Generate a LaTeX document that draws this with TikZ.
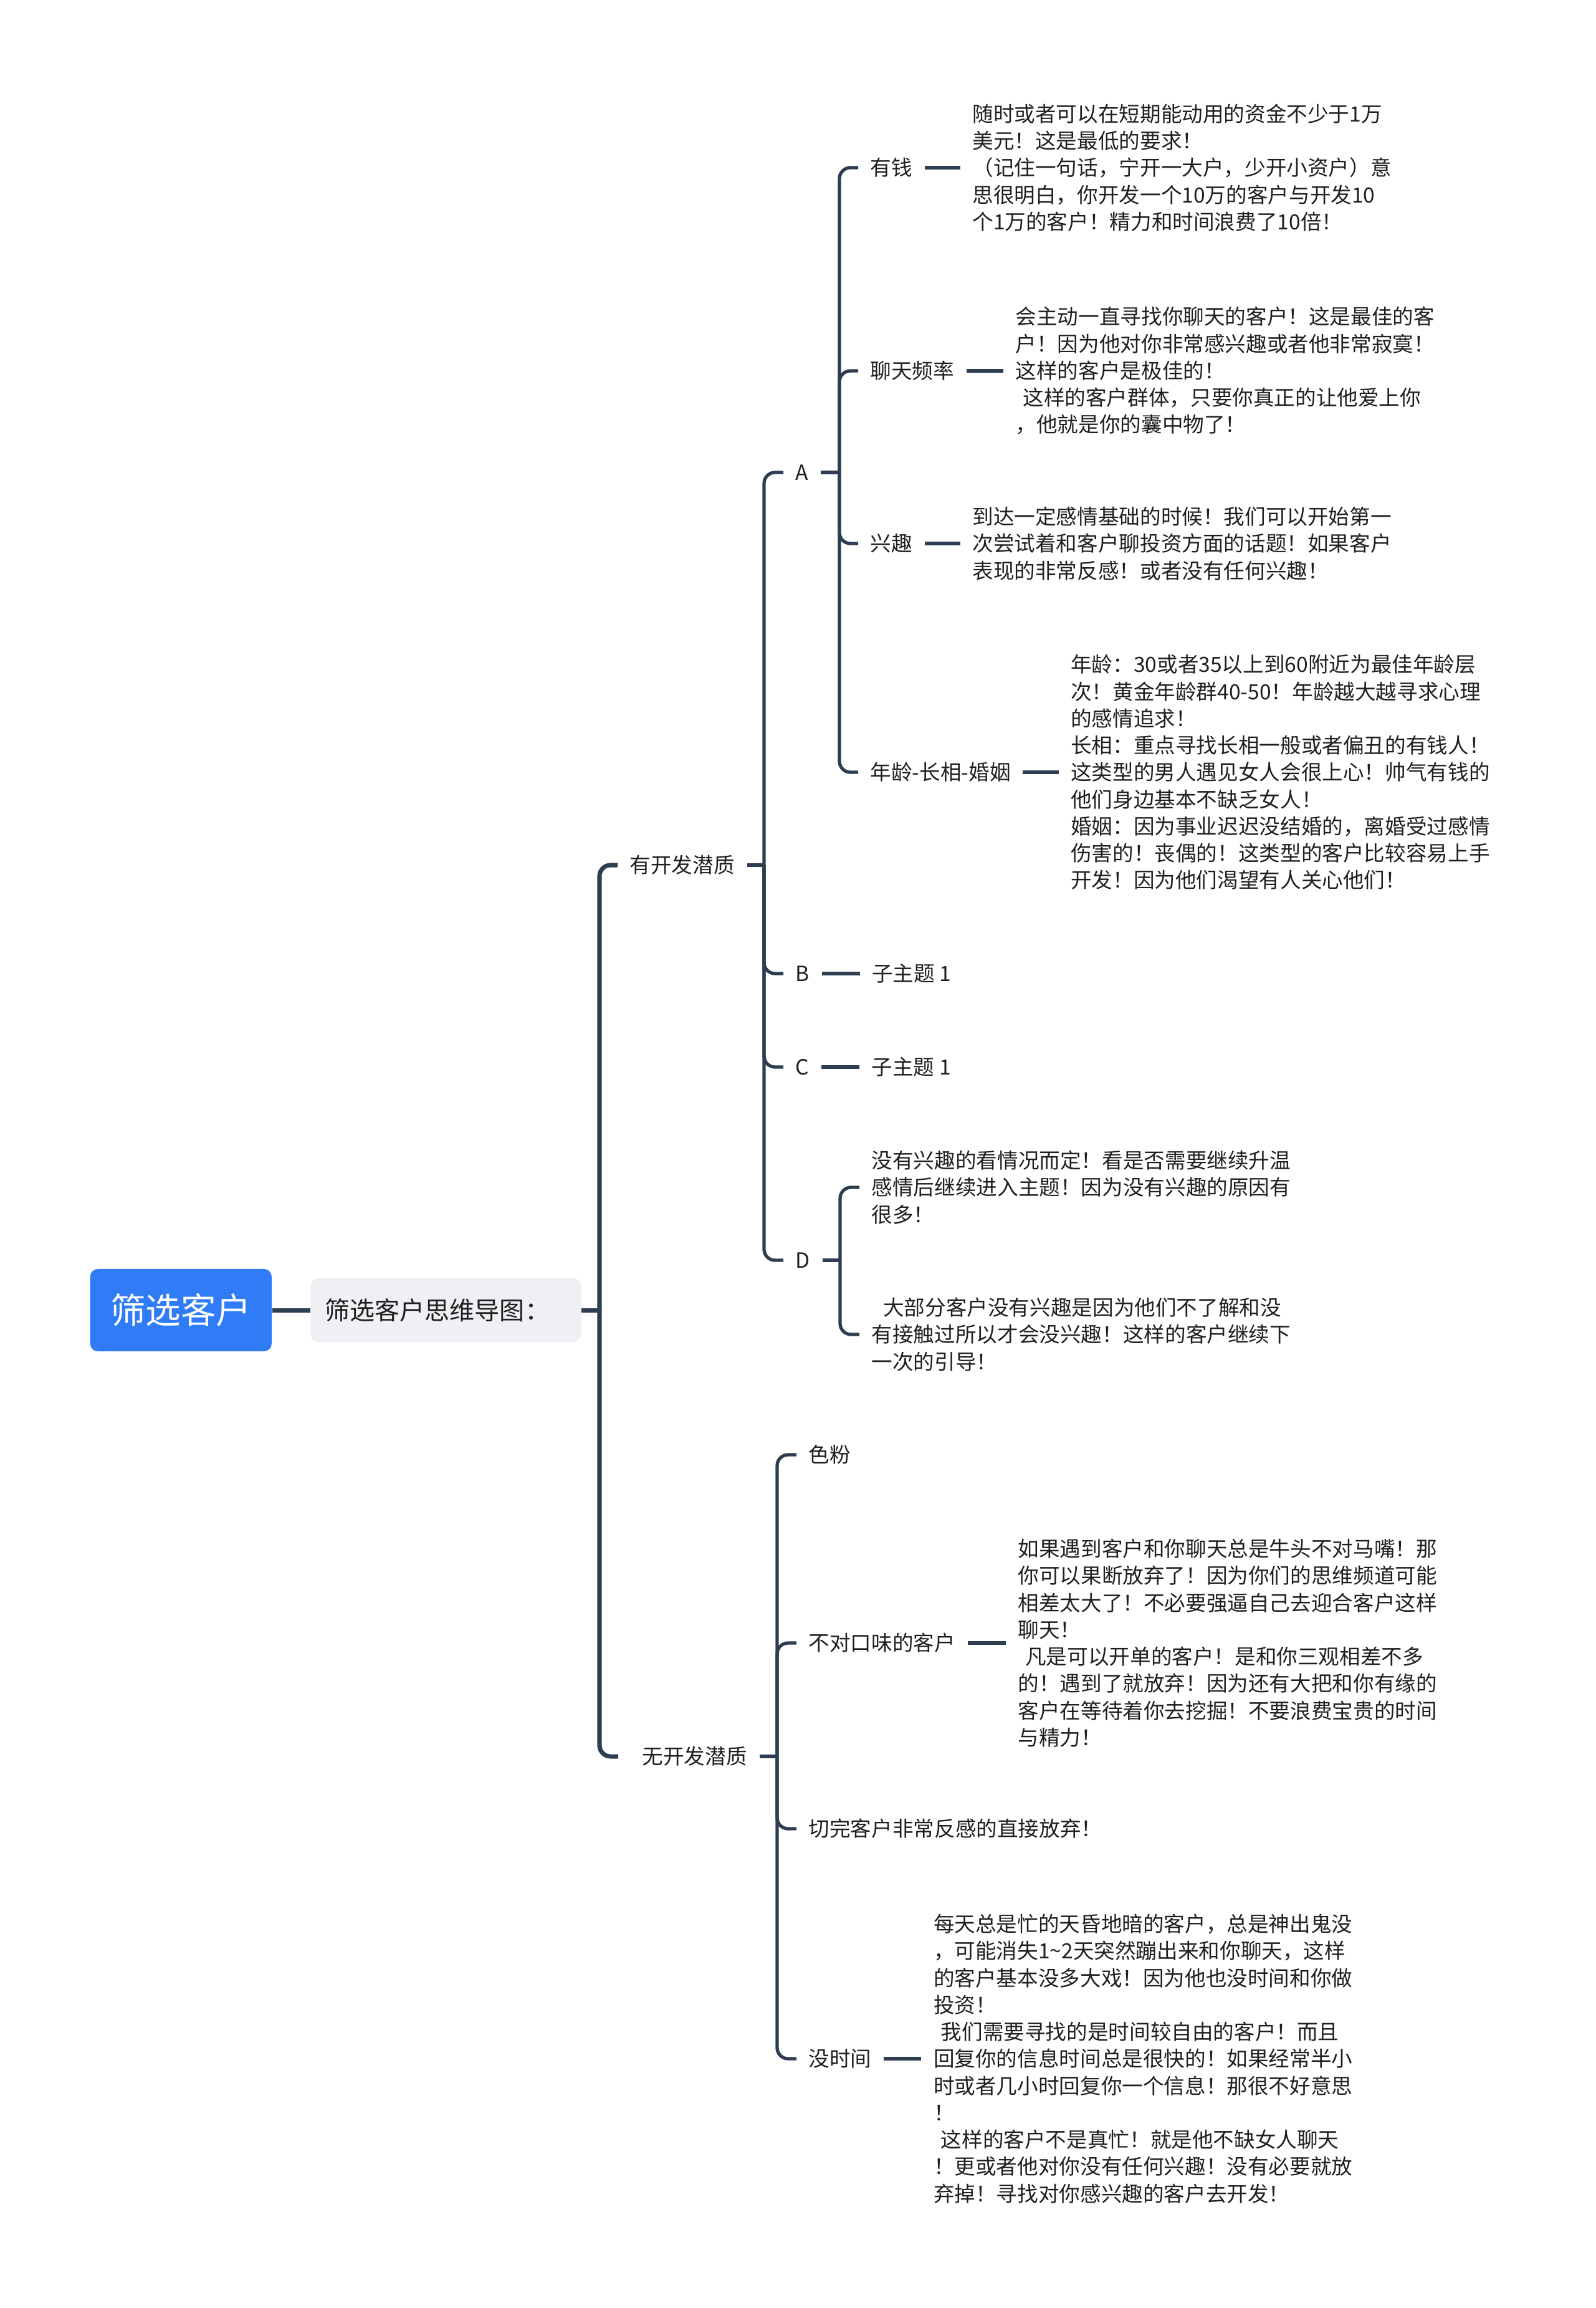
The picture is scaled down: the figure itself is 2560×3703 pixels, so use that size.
\documentclass[tikz,border=0pt]{standalone}
\usepackage{fontspec}
\setmainfont{Noto Sans CJK SC}
\usepackage{tikz}
\usetikzlibrary{positioning,calc}
\definecolor{RootBlue}{HTML}{2F7CF6}
\definecolor{SoftGray}{HTML}{EEF0F3}
\definecolor{LineNavy}{HTML}{2E3D52}
\definecolor{InkBlack}{HTML}{1F1F1F}
\newcommand\bodyfont{\fontsize{9.56pt}{12.3pt}\selectfont}
\tikzset{
  nRoot/.style={rectangle,rounded corners=3.5pt,fill=RootBlue,text=white,
                minimum width=2.91cm,minimum height=1.32cm,inner sep=0pt,
                font=\fontsize{16.1pt}{19pt}\selectfont},
  nSub/.style={rectangle,rounded corners=4pt,fill=SoftGray,text=InkBlack,
               text width=3.88cm,align=left,inner xsep=0.23cm,minimum height=1.03cm,
               font=\fontsize{11.4pt}{14pt}\selectfont},
  nL/.style={inner xsep=0.19cm,inner ysep=1pt,text=InkBlack,font=\bodyfont},
  nP/.style={nL,align=left},
  conn/.style={draw=LineNavy,line width=1.5pt,rounded corners=5pt},
  connT/.style={conn,line width=2pt}
}

\begin{document}
\begin{tikzpicture}[x=0.01cm,y=-0.01cm]
  \useasboundingbox (0,0) rectangle (2560,3703);

  \node[nRoot,anchor=west] (root) at (144,2102) {筛选客户};
  \node[nSub,right=0.61cm of root] (map) {筛选客户思维导图：};
  \coordinate (j0) at (962,2102);

  \node[nL,anchor=west] (yes) at (991,1388) {有开发潜质};
  \node[nL,anchor=west,text width=1.87cm,align=right] (no) at (992,2818) {无开发潜质};
  \coordinate (j1) at (1226,1388);
  \coordinate (j2) at (1247,2818);

  % 有开发潜质
  \node[nL,anchor=west] (a) at (1257,758) {A};
  \node[nL,anchor=west] (b) at (1257,1562) {B};
  \node[nL,right=0.61cm of b] (b1) {子主题 1};
  \node[nL,anchor=west] (c) at (1257,1712) {C};
  \node[nL,right=0.61cm of c] (c1) {子主题 1};
  \node[nL,anchor=west] (d) at (1257,2022) {D};
  \coordinate (ja) at (1347,758);
  \coordinate (jd) at (1348,2022);

  \node[nL,anchor=west] (money) at (1377,269) {有钱};
  \node[nP,right=0.57cm of money] (moneyT) {随时或者可以在短期能动用的资金不少于1万\\美元！这是最低的要求！\\（记住一句话，宁开一大户，少开小资户）意\\思很明白，你开发一个10万的客户与开发10\\个1万的客户！精力和时间浪费了10倍！};
  \node[nL,anchor=west] (chat) at (1377,595) {聊天频率};
  \node[nP,right=0.59cm of chat] (chatT) {会主动一直寻找你聊天的客户！这是最佳的客\\户！因为他对你非常感兴趣或者他非常寂寞！\\这样的客户是极佳的！\\\hspace*{0.35em}这样的客户群体，只要你真正的让他爱上你\\，他就是你的囊中物了！};
  \node[nL,anchor=west] (intr) at (1377,872) {兴趣};
  \node[nP,right=0.57cm of intr] (intrT) {到达一定感情基础的时候！我们可以开始第一\\次尝试着和客户聊投资方面的话题！如果客户\\表现的非常反感！或者没有任何兴趣！};
  \node[nL,anchor=west] (age) at (1377,1239) {年龄-长相-婚姻};
  \node[nP,right=0.57cm of age] (ageT) {年龄：30或者35以上到60附近为最佳年龄层\\次！黄金年龄群40-50！年龄越大越寻求心理\\的感情追求！\\长相：重点寻找长相一般或者偏丑的有钱人！\\这类型的男人遇见女人会很上心！帅气有钱的\\他们身边基本不缺乏女人！\\婚姻：因为事业迟迟没结婚的，离婚受过感情\\伤害的！丧偶的！这类型的客户比较容易上手\\开发！因为他们渴望有人关心他们！};

  \node[nP,anchor=west] (dup) at (1379,1905) {没有兴趣的看情况而定！看是否需要继续升温\\感情后继续进入主题！因为没有兴趣的原因有\\很多！};
  \node[nP,anchor=west] (ddown) at (1379,2141) {\hspace*{0.55em}大部分客户没有兴趣是因为他们不了解和没\\有接触过所以才会没兴趣！这样的客户继续下\\一次的引导！};

  % 无开发潜质
  \node[nL,anchor=west] (fan) at (1278,2334) {色粉};
  \node[nL,anchor=west] (taste) at (1278,2636) {不对口味的客户};
  \node[nP,right=0.61cm of taste] (tasteT) {如果遇到客户和你聊天总是牛头不对马嘴！那\\你可以果断放弃了！因为你们的思维频道可能\\相差太大了！不必要强逼自己去迎合客户这样\\聊天！\\\hspace*{0.35em}凡是可以开单的客户！是和你三观相差不多\\的！遇到了就放弃！因为还有大把和你有缘的\\客户在等待着你去挖掘！不要浪费宝贵的时间\\与精力！};
  \node[nL,anchor=west] (quit) at (1278,2934) {切完客户非常反感的直接放弃！};
  \node[nL,anchor=west] (busy) at (1278,3303) {没时间};
  \node[nP,right=0.60cm of busy] (busyT) {每天总是忙的天昏地暗的客户，总是神出鬼没\\，可能消失1\textasciitilde 2天突然蹦出来和你聊天，这样\\的客户基本没多大戏！因为他也没时间和你做\\投资！\\\hspace*{0.35em}我们需要寻找的是时间较自由的客户！而且\\回复你的信息时间总是很快的！如果经常半小\\时或者几小时回复你一个信息！那很不好意思\\！\\\hspace*{0.35em}这样的客户不是真忙！就是他不缺女人聊天\\！更或者他对你没有任何兴趣！没有必要就放\\弃掉！寻找对你感兴趣的客户去开发！};

  \draw[connT] (root) -- (map);
  \draw[connT] (map) -- (j0);
  \draw[connT] (j0) |- (yes.west);
  \draw[connT] (j0) |- (no.west);
  \draw[conn] (yes) -- (j1);
  \draw[conn] (no) -- (j2);
  \foreach \n in {a,b,c,d} \draw[conn] (j1) |- (\n.west);
  \draw[conn] (a) -- (ja);
  \draw[conn] (d) -- (jd);
  \draw[conn] (b) -- (b1);
  \draw[conn] (c) -- (c1);
  \foreach \n in {money,chat,intr,age} \draw[conn] (ja) |- (\n.west);
  \foreach \n in {money,chat,intr,age} \draw[conn] (\n) -- (\n T);
  \foreach \n in {dup,ddown} \draw[conn] (jd) |- (\n.west);
  \foreach \n in {fan,taste,quit,busy} \draw[conn] (j2) |- (\n.west);
  \draw[conn] (taste) -- (tasteT);
  \draw[conn] (busy) -- (busyT);
\end{tikzpicture}
\end{document}
